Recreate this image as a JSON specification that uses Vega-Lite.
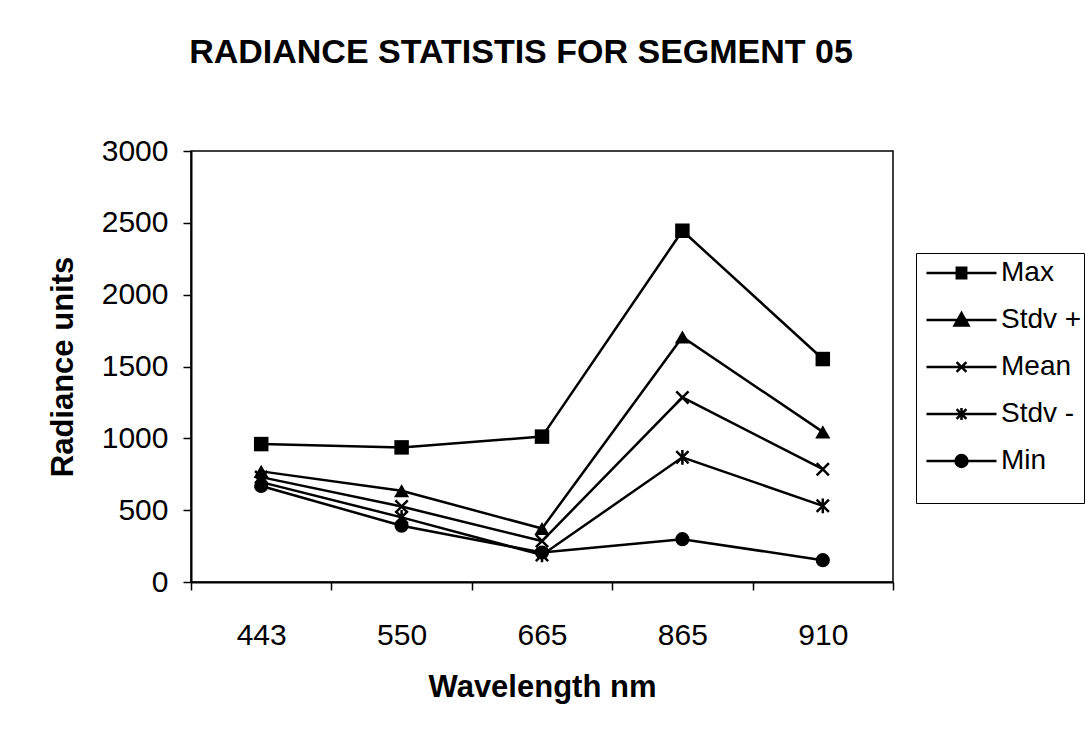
{
  "$schema": "https://vega.github.io/schema/vega-lite/v6.json",
  "width": 702,
  "height": 431,
  "autosize": {"type": "none"},
  "padding": {"left": 191, "top": 151, "right": 193, "bottom": 160},
  "background": "white",
  "title": {
    "text": "RADIANCE STATISTIS FOR SEGMENT 05",
    "font": "Liberation Sans",
    "fontSize": 34,
    "fontWeight": "bold",
    "color": "black",
    "anchor": "middle",
    "frame": "group",
    "baseline": "alphabetic",
    "offset": 39,
    "dx": -21
  },
  "config": {
    "view": {"stroke": "black", "strokeWidth": 1.5},
    "axis": {
      "grid": false,
      "domainColor": "black",
      "domainWidth": 2,
      "tickColor": "black",
      "tickWidth": 1.5,
      "tickSize": 8,
      "labelFont": "Liberation Sans",
      "labelFontSize": 30,
      "labelColor": "black",
      "titleFont": "Liberation Sans",
      "titleFontSize": 31,
      "titleFontWeight": "bold",
      "titleColor": "black"
    }
  },
  "data": {
    "values": [
      {"wavelength": "443", "series": "Max", "value": 960},
      {"wavelength": "550", "series": "Max", "value": 937},
      {"wavelength": "665", "series": "Max", "value": 1012},
      {"wavelength": "865", "series": "Max", "value": 2445},
      {"wavelength": "910", "series": "Max", "value": 1552},
      {"wavelength": "443", "series": "Stdv +", "value": 770},
      {"wavelength": "550", "series": "Stdv +", "value": 635},
      {"wavelength": "665", "series": "Stdv +", "value": 372},
      {"wavelength": "865", "series": "Stdv +", "value": 1705},
      {"wavelength": "910", "series": "Stdv +", "value": 1045},
      {"wavelength": "443", "series": "Mean", "value": 730},
      {"wavelength": "550", "series": "Mean", "value": 525},
      {"wavelength": "665", "series": "Mean", "value": 285},
      {"wavelength": "865", "series": "Mean", "value": 1285},
      {"wavelength": "910", "series": "Mean", "value": 785},
      {"wavelength": "443", "series": "Stdv -", "value": 695},
      {"wavelength": "550", "series": "Stdv -", "value": 450},
      {"wavelength": "665", "series": "Stdv -", "value": 188},
      {"wavelength": "865", "series": "Stdv -", "value": 868},
      {"wavelength": "910", "series": "Stdv -", "value": 530},
      {"wavelength": "443", "series": "Min", "value": 668},
      {"wavelength": "550", "series": "Min", "value": 392},
      {"wavelength": "665", "series": "Min", "value": 205},
      {"wavelength": "865", "series": "Min", "value": 298},
      {"wavelength": "910", "series": "Min", "value": 152}
    ]
  },
  "encoding": {
    "x": {
      "field": "wavelength",
      "type": "ordinal",
      "sort": ["443", "550", "665", "865", "910"],
      "scale": {"type": "band", "paddingInner": 0, "paddingOuter": 0},
      "axis": {
        "title": "Wavelength nm",
        "labelAngle": 0,
        "tickBand": "extent",
        "labelPadding": 30,
        "titlePadding": 22
      }
    },
    "y": {
      "field": "value",
      "type": "quantitative",
      "scale": {"domain": [0, 3000], "nice": false, "zero": true},
      "axis": {
        "title": "Radiance units",
        "values": [0, 500, 1000, 1500, 2000, 2500, 3000],
        "format": "d",
        "labelPadding": 15,
        "titlePadding": 22
      }
    }
  },
  "layer": [
    {
      "mark": {"type": "line", "color": "black", "strokeWidth": 2.5},
      "encoding": {"detail": {"field": "series"}}
    },
    {
      "transform": [{"filter": "datum.series === 'Max'"}],
      "mark": {"type": "point", "shape": "square", "filled": true, "color": "black", "size": 210, "opacity": 1}
    },
    {
      "transform": [{"filter": "datum.series === 'Stdv +'"}],
      "mark": {"type": "point", "shape": "triangle-up", "filled": true, "color": "black", "size": 230, "opacity": 1}
    },
    {
      "transform": [{"filter": "datum.series === 'Mean'"}],
      "mark": {"type": "point", "shape": "M-1,-1L1,1M-1,1L1,-1", "filled": false, "stroke": "black", "strokeWidth": 2.5, "size": 150, "opacity": 1}
    },
    {
      "transform": [{"filter": "datum.series === 'Stdv -'"}],
      "mark": {"type": "point", "shape": "M-1,-1L1,1M-1,1L1,-1M0,-1.2L0,1.2", "filled": false, "stroke": "black", "strokeWidth": 2.5, "size": 150, "opacity": 1}
    },
    {
      "transform": [{"filter": "datum.series === 'Min'"}],
      "mark": {"type": "point", "shape": "circle", "filled": true, "color": "black", "size": 200, "opacity": 1}
    },
    {
      "transform": [{"filter": "datum.value < 0"}],
      "mark": {
        "type": "point",
        "filled": false,
        "color": "black",
        "strokeWidth": 2.5,
        "size": 4900,
        "opacity": 1
      },
      "encoding": {
        "shape": {
          "field": "series",
          "type": "nominal",
          "scale": {
            "domain": ["Max", "Stdv +", "Mean", "Stdv -", "Min"],
            "range": [
              "M-1,0H1M-0.17,-0.15H0.17M-0.17,-0.1H0.17M-0.17,-0.05H0.17M-0.17,0.05H0.17M-0.17,0.1H0.17M-0.17,0.15H0.17",
              "M-1,0H1M-0.2,0.16L0,-0.2L0.2,0.16ZM-0.03,-0.15H0.03M-0.06,-0.1H0.06M-0.08,-0.05H0.08M-0.14,0.05H0.14M-0.17,0.1H0.17",
              "M-1,0H1M-0.14,-0.14L0.14,0.14M-0.14,0.14L0.14,-0.14",
              "M-1,0H1M-0.14,-0.14L0.14,0.14M-0.14,0.14L0.14,-0.14M0,-0.17L0,0.17",
              "M-1,0H1M-0.17,0A0.17,0.17 0 1,0 0.17,0A0.17,0.17 0 1,0 -0.17,0M-0.16,-0.05H0.16M-0.16,0.05H0.16M-0.14,-0.1H0.14M-0.14,0.1H0.14M-0.08,-0.15H0.08M-0.08,0.15H0.08"
            ]
          },
          "legend": {
            "title": " ",
            "titleOrient": "bottom",
            "titleFontSize": 14,
            "titlePadding": 8,
            "orient": "none",
            "legendX": 725,
            "legendY": 102,
            "strokeColor": "black",
            "fillColor": "white",
            "padding": 2,
            "symbolOffset": 7,
            "symbolSize": 4900,
            "symbolStrokeWidth": 2.5,
            "symbolStrokeColor": "black",
            "symbolOpacity": 1,
            "clipHeight": 36,
            "rowPadding": 11,
            "labelOffset": 3,
            "labelFont": "Liberation Sans",
            "labelFontSize": 28,
            "labelColor": "black",
            "labelLimit": 300
          }
        }
      }
    }
  ]
}
